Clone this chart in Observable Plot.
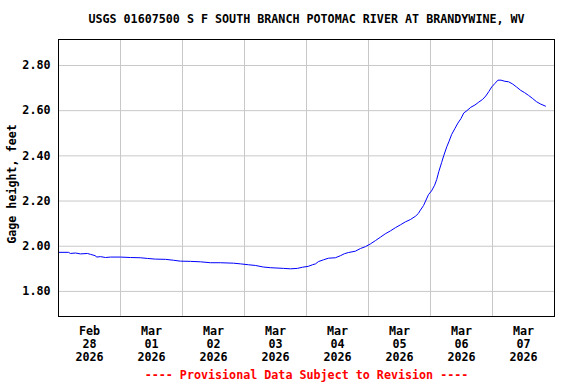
<!DOCTYPE html>
<html><head><meta charset="utf-8">
<script src="https://cdn.jsdelivr.net/npm/d3@7"></script>
<script src="https://cdn.jsdelivr.net/npm/@observablehq/plot@0.6"></script>
<style>body{margin:0;background:#fff}</style>
</head><body><div id="chart"></div>
<script>
const title = "USGS 01607500 S F SOUTH BRANCH POTOMAC RIVER AT BRANDYWINE, WV";
const yLabel = "Gage height, feet";
const footer = "---- Provisional Data Subject to Revision ----";
const startTime = "2026-02-28T00:00:00Z";
const endTime = "2026-03-08T00:00:00Z";
// hours since Feb 28 00:00
const hours = [0, 3.9, 4.6, 6.6, 8.5, 11.2, 12.4, 14.3, 14.7, 16.3, 18.2, 20.1, 24, 27.9, 31.7, 34.4, 37.5, 41.4, 44.5, 47.2,
  51.1, 55, 58.8, 62.7, 67.7, 70.4, 73.5, 76.2, 79.3, 82, 87.1, 89.8, 92.5, 94.4, 96.7, 98.3, 99.5, 100.6, 102.6, 104.5,
  107.2, 109.1, 110.7, 112.2, 114.9, 116.9, 118.8, 120.7, 122.7, 124.6, 126.5, 128.5, 130.4, 132.4, 134.3, 136.2, 138.2, 139.3, 140.1, 141.3,
  142.1, 143.2, 144.4, 145.6, 146.4, 147.2, 148.3, 149.1, 150.3, 151.1, 152.2, 153.4, 154.6, 155.8, 156.9, 158.1, 159.6, 161.2, 162.7, 164.2,
  165.4, 166.6, 167.7, 168.9, 170.1, 171.3, 172.8, 174.2, 175.8, 177.3, 178.9, 180.4, 181.9, 183.4, 185, 186.5, 188.5];
const gageFeet = [1.973, 1.973, 1.968, 1.970, 1.966, 1.968, 1.964, 1.958, 1.952, 1.954, 1.950, 1.952, 1.952, 1.950, 1.949, 1.946, 1.943, 1.942, 1.938, 1.934,
  1.933, 1.931, 1.927, 1.927, 1.925, 1.922, 1.918, 1.915, 1.908, 1.905, 1.902, 1.900, 1.902, 1.907, 1.911, 1.918, 1.922, 1.932, 1.940, 1.947,
  1.949, 1.958, 1.967, 1.972, 1.978, 1.990, 1.998, 2.010, 2.025, 2.040, 2.055, 2.068, 2.082, 2.095, 2.108, 2.118, 2.133, 2.145, 2.160, 2.180,
  2.200, 2.228, 2.245, 2.270, 2.295, 2.330, 2.370, 2.400, 2.440, 2.462, 2.495, 2.520, 2.545, 2.565, 2.590, 2.600, 2.615, 2.625, 2.638, 2.650,
  2.665, 2.685, 2.705, 2.720, 2.735, 2.735, 2.730, 2.728, 2.718, 2.705, 2.690, 2.680, 2.668, 2.655, 2.640, 2.630, 2.620];
const dayTicks = ["2026-02-28T12:00:00Z", "2026-03-01T12:00:00Z", "2026-03-02T12:00:00Z", "2026-03-03T12:00:00Z",
  "2026-03-04T12:00:00Z", "2026-03-05T12:00:00Z", "2026-03-06T12:00:00Z", "2026-03-07T12:00:00Z"];
const dayLabels = ["Feb\n28\n2026", "Mar\n01\n2026", "Mar\n02\n2026", "Mar\n03\n2026", "Mar\n04\n2026", "Mar\n05\n2026", "Mar\n06\n2026", "Mar\n07\n2026"];
const gridDays = ["2026-03-01T00:00:00Z", "2026-03-02T00:00:00Z", "2026-03-03T00:00:00Z", "2026-03-04T00:00:00Z",
  "2026-03-05T00:00:00Z", "2026-03-06T00:00:00Z", "2026-03-07T00:00:00Z"];
const yTicks = [1.8, 2.0, 2.2, 2.4, 2.6, 2.8];

const t0 = new Date(startTime).getTime();
const data = hours.map((h, i) => ({time: new Date(t0 + h * 3600e3), value: gageFeet[i]}));
const tickDates = dayTicks.map(d => new Date(d));
const labelMap = new Map(tickDates.map((d, i) => [+d, dayLabels[i]]));
const fs = 11.7;

const chart = Plot.plot({
  width: 576,
  height: 384,
  marginLeft: 58,
  marginRight: 22,
  marginTop: 39,
  marginBottom: 68,
  style: {fontFamily: "'DejaVu Sans Mono', monospace", fontSize: fs + "px", fontWeight: "bold", background: "#fff", color: "#000"},
  x: {type: "utc", domain: [new Date(startTime), new Date(endTime)]},
  y: {domain: [1.689, 2.915]},
  marks: [
    Plot.gridY(yTicks, {stroke: "#c8c8c8", strokeOpacity: 1}),
    Plot.gridX(gridDays.map(d => new Date(d)), {stroke: "#c8c8c8", strokeOpacity: 1}),
    Plot.line(data, {x: "time", y: "value", stroke: "#0000ff", strokeWidth: 1}),
    Plot.frame({stroke: "#000"}),
    Plot.axisY(yTicks, {tickSize: 0, tickPadding: 8, tickFormat: d => d.toFixed(2), label: null, fontWeight: "bold", fontSize: fs}),
    Plot.axisX(tickDates, {tickSize: 0, tickPadding: 9, tickFormat: d => labelMap.get(+d), label: null, lineHeight: 1.12, fontWeight: "bold", fontSize: fs}),
    Plot.text([title], {frameAnchor: "top", dy: -20, lineAnchor: "middle", fontWeight: "bold", fontSize: fs}),
    Plot.text([yLabel], {frameAnchor: "left", dx: -46, dy: 6, rotate: -90, textAnchor: "middle", lineAnchor: "middle", fontWeight: "bold", fontSize: fs}),
    Plot.text([footer], {frameAnchor: "bottom", dy: 59, lineAnchor: "middle", fill: "#ff0000", fontWeight: "bold", fontSize: fs})
  ]
});
document.getElementById("chart").append(chart);
</script>
</body></html>
